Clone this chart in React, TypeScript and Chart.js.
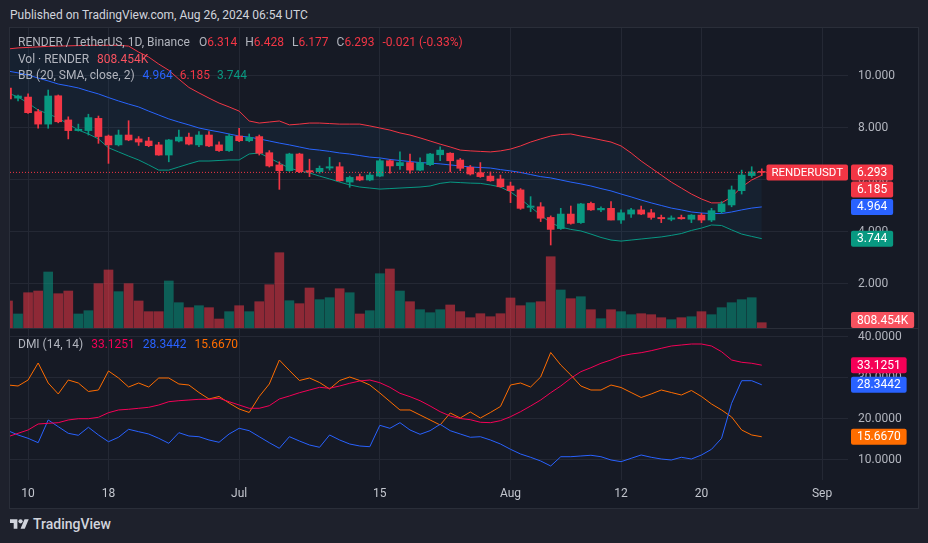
import React, { useEffect, useRef } from 'react';
import { Chart, registerables } from 'chart.js';
Chart.register(...registerables);

// ---------- data (RENDER / USDT daily, one entry per candle) ----------
const OPEN = [9.54,9.15,9.19,8.63,8.15,9.24,8.31,7.90,7.90,8.37,7.69,7.35,7.73,7.58,7.50,7.35,6.96,7.50,7.65,7.35,7.73,7.35,7.13,7.69,7.51,7.67,7.05,6.58,6.36,7.00,6.36,6.32,6.46,6.51,5.92,6.13,6.00,6.15,6.74,6.55,6.67,6.38,6.59,6.97,7.03,6.77,6.49,6.28,6.15,6.04,5.77,5.62,4.95,4.97,4.56,4.13,4.69,4.36,5.10,4.85,4.91,4.46,4.69,4.85,4.74,4.56,4.49,4.56,4.49,4.65,4.46,4.78,5.04,5.59,6.17,6.314];
const HIGH = [9.62,9.27,9.31,8.72,9.46,9.27,8.43,8.15,8.53,8.46,7.73,7.92,8.28,7.67,7.64,7.45,7.56,7.92,7.80,7.86,7.86,7.47,7.77,7.99,7.77,7.73,7.13,6.70,7.03,7.03,6.80,6.54,6.87,6.67,6.15,6.23,6.28,6.80,6.78,7.08,7.00,6.85,7.03,7.28,7.05,6.83,6.56,6.67,6.31,6.19,5.92,5.67,5.36,5.13,4.62,4.91,5.00,5.10,5.15,4.97,5.17,4.85,4.91,5.00,4.87,4.65,4.62,4.65,4.67,4.72,4.91,5.17,5.77,6.38,6.51,6.428];
const LOW = [9.04,9.04,8.56,7.99,7.99,8.20,7.58,7.88,7.73,7.41,6.64,7.31,7.51,7.33,7.28,6.95,6.70,7.46,7.35,7.28,7.28,7.10,7.10,7.47,7.47,6.96,6.50,5.64,6.33,6.28,6.13,6.26,6.38,5.95,5.72,5.97,5.97,6.13,6.26,6.41,6.26,6.36,6.55,6.74,6.31,6.36,6.19,6.10,5.95,5.72,5.13,4.87,4.78,4.40,3.50,4.10,4.30,4.33,4.83,4.78,4.46,4.33,4.56,4.67,4.49,4.36,4.43,4.49,4.36,4.36,4.40,4.72,4.97,5.46,6.10,6.177];
const CLOSE = [9.12,9.23,8.59,8.15,9.23,8.24,7.90,7.95,8.40,7.67,7.35,7.73,7.54,7.46,7.32,6.96,7.54,7.65,7.38,7.73,7.31,7.13,7.69,7.51,7.64,7.03,6.54,6.36,7.00,6.32,6.31,6.45,6.51,5.97,6.10,6.00,6.19,6.74,6.54,6.67,6.38,6.67,7.00,7.15,6.74,6.45,6.23,6.13,5.97,5.74,5.59,4.91,5.00,4.53,4.10,4.69,4.33,5.08,4.85,4.91,4.46,4.74,4.85,4.69,4.56,4.51,4.54,4.51,4.65,4.46,4.82,5.08,5.62,6.19,6.314,6.293];
// volume in millions
const VOLUME = [4.12,2.14,5.38,5.64,8.54,5.23,5.64,2.14,2.64,6.76,8.85,5.54,6.76,4.12,2.49,2.49,7.17,3.86,3.10,3.40,3.10,1.37,2.49,3.40,2.49,4.01,6.60,11.48,4.16,3.71,6.10,4.32,4.62,5.99,5.38,2.14,2.64,8.28,9.00,5.64,4.01,2.79,2.33,2.79,3.51,2.49,1.57,2.18,1.72,2.18,4.58,3.40,3.86,4.01,10.87,5.80,4.47,4.77,2.79,1.42,2.79,2.49,2.03,2.18,2.03,1.57,1.27,1.57,1.72,2.49,2.03,3.10,3.86,4.32,4.62,0.808454];
const BB_UPPER = [11.04,11.08,11.10,11.12,11.14,11.15,11.16,11.17,11.18,11.18,11.18,11.18,11.15,10.92,10.73,10.46,10.22,9.88,9.56,9.35,9.15,8.96,8.81,8.65,8.27,8.19,8.23,8.27,8.12,8.15,8.19,8.19,8.17,8.15,8.15,8.15,8.08,8.00,7.92,7.81,7.73,7.62,7.50,7.38,7.27,7.15,7.12,7.10,7.08,7.12,7.19,7.31,7.46,7.58,7.69,7.75,7.77,7.69,7.62,7.54,7.46,7.31,7.04,6.73,6.46,6.19,5.92,5.69,5.46,5.27,5.12,5.12,5.35,5.73,6.00,6.185];
const BB_BASIS = [10.19,10.12,10.04,9.92,9.81,9.69,9.62,9.54,9.42,9.31,9.17,9.04,8.92,8.81,8.65,8.50,8.35,8.23,8.12,8.00,7.92,7.85,7.77,7.69,7.65,7.58,7.50,7.42,7.35,7.27,7.19,7.15,7.10,7.04,7.00,6.94,6.88,6.85,6.79,6.75,6.71,6.67,6.65,6.62,6.58,6.54,6.50,6.48,6.46,6.40,6.35,6.29,6.21,6.13,6.08,6.00,5.92,5.85,5.77,5.67,5.58,5.46,5.35,5.23,5.12,5.02,4.92,4.85,4.77,4.73,4.71,4.71,4.77,4.85,4.92,4.964];
const BB_LOWER = [9.35,9.19,8.96,8.69,8.54,8.38,8.15,7.92,7.77,7.58,7.24,7.08,6.92,6.77,6.58,6.38,6.38,6.50,6.62,6.73,6.73,6.75,6.77,6.77,7.00,7.04,6.85,6.65,6.46,6.35,6.27,6.15,6.04,5.92,5.81,5.73,5.69,5.65,5.67,5.69,5.71,5.73,5.77,5.87,5.92,5.90,5.88,5.87,5.81,5.73,5.54,5.27,4.96,4.65,4.35,4.19,4.10,4.04,3.92,3.79,3.69,3.65,3.69,3.73,3.77,3.81,3.87,3.94,4.06,4.15,4.27,4.25,4.08,3.92,3.83,3.744];
const ADX = [15.68,16.51,17.32,18.78,18.95,19.10,19.76,20.07,20.07,20.41,21.54,22.20,22.37,22.61,22.85,23.41,24.22,24.46,24.63,24.80,24.80,25.05,24.22,23.41,22.61,22.61,23.24,24.88,25.61,26.41,27.07,27.73,27.49,28.05,28.71,29.27,29.51,28.85,27.73,26.27,25.44,24.46,23.17,21.78,20.73,20.12,19.83,19.20,19.10,19.59,20.56,21.78,23.17,24.63,26.41,28.05,29.93,31.54,32.51,33.59,34.39,35.37,35.85,36.17,36.66,37.24,37.80,38.05,38.29,38.29,37.80,36.41,34.39,33.83,33.59,33.1251];
const PLUS_DI = [17.15,16.10,15.29,14.22,19.76,18.12,16.51,16.02,17.98,16.10,14.46,15.54,17.49,16.90,16.34,15.29,14.07,16.66,15.85,15.68,14.88,14.32,16.34,17.73,17.15,15.68,14.22,12.85,15.68,14.63,13.66,13.10,16.10,14.88,13.90,13.41,13.24,18.46,17.73,19.10,17.32,16.27,17.15,18.71,17.15,16.34,15.54,15.68,14.88,13.90,12.61,11.46,10.66,9.76,8.54,10.80,10.80,10.98,11.15,10.80,10.00,9.59,10.41,11.22,10.66,10.24,10.00,10.66,10.24,11.22,12.61,15.29,23.83,29.34,29.34,28.3442];
const MINUS_DI = [28.29,28.05,29.51,33.66,28.78,26.10,29.51,28.78,26.71,27.07,31.71,30.00,27.80,28.78,27.80,30.00,30.00,28.54,28.29,26.46,24.88,25.49,23.90,22.44,21.59,25.49,28.54,34.39,31.83,29.39,30.00,28.90,27.32,29.39,30.24,29.39,28.29,26.34,24.27,22.20,22.20,20.98,19.76,18.54,21.46,20.24,21.71,20.24,21.59,23.05,28.29,28.78,27.80,30.24,36.22,33.17,30.73,28.05,27.07,27.07,28.29,27.68,26.46,25.24,26.10,27.07,26.46,25.85,26.95,25.49,23.66,22.20,20.49,17.32,16.10,15.667];

// x axis: candle index positions of the date labels
const TICK_POS = [2, 10, 23, 37, 50, 61, 69, 81];
const TICK_LABELS = ['10', '18', 'Jul', '15', 'Aug', '12', '20', 'Sep'];
const PRICE_TICKS = [2, 4, 6, 8, 10];
const DMI_TICKS = [10, 20, 30, 40];

// ---------- view ranges / styles ----------
const X_MIN = 0.2;
const X_MAX = 83.58;
const P_MIN = 0.3077;
const P_MAX = 11.846;
const VOL_MAX = 45.75;
const DMI_MIN = 5.12;
const DMI_MAX = 41.95;

const FONT = 'Roboto, "Open Sans", "Liberation Sans", sans-serif';
const OUTER_BG = '#1e212c';
const CHART_BG = '#161a25';
const GRID = '#242834';
const AXIS_TEXT = '#b2b5be';
const C_UP = '#089981';
const C_DOWN = '#f23645';
const VOL_UP = 'rgba(8,153,129,0.55)';
const VOL_DOWN = 'rgba(242,54,69,0.55)';
const BLUE = '#2962ff';
const PINK = '#f50057';
const ORANGE = '#ff6d00';

const N = CLOSE.length;
const IDX = CLOSE.map((_, i) => i);
const LAST = N - 1;
const isUp = (i: number) => CLOSE[i] >= OPEN[i];

function zeroPad(s: any) {
  s.paddingLeft = 0;
  s.paddingRight = 0;
  s.paddingTop = 0;
  s.paddingBottom = 0;
}

function makeTagPlugin(id: string, tags: any[]) {
  return {
    id,
    afterDraw(chart: any) {
      const { ctx, chartArea } = chart;
      ctx.save();
      ctx.font = `12px ${FONT}`;
      const H = 16;
      const items = tags.map((t) => ({ ...t, y: chart.scales[t.axis].getPixelForValue(t.value) }));
      items.sort((a, b) => a.y - b.y);
      let prevBottom = -Infinity;
      for (const it of items) {
        let top = Math.max(it.y - H / 2, prevBottom + 1);
        if (top + H > chartArea.bottom) top = chartArea.bottom - H;
        it.top = top;
        prevBottom = top + H;
      }
      for (const it of items) {
        const x = chartArea.right + 3;
        const w = ctx.measureText(it.text).width + 12;
        ctx.fillStyle = it.bg;
        ctx.beginPath();
        ctx.roundRect(x, it.top, w, H, 2);
        ctx.fill();
        ctx.fillStyle = '#ffffff';
        ctx.textBaseline = 'middle';
        ctx.textAlign = 'left';
        ctx.fillText(it.text, x + 6, it.top + H / 2 + 0.5);
        if (it.name) {
          ctx.font = `11.5px ${FONT}`;
          const w2 = ctx.measureText(it.name).width + 10;
          const x2 = chartArea.right - w2;
          ctx.fillStyle = it.bg;
          ctx.beginPath();
          ctx.roundRect(x2, it.top, w2, H, 2);
          ctx.fill();
          ctx.fillStyle = '#ffffff';
          ctx.fillText(it.name, x2 + 5, it.top + H / 2 + 0.5);
          ctx.font = `12px ${FONT}`;
        }
      }
      ctx.restore();
    },
  };
}

function topConfig(): any {
  const candleColors = IDX.map((i) => (isUp(i) ? C_UP : C_DOWN));
  const volColors = IDX.map((i) => (isUp(i) ? VOL_UP : VOL_DOWN));
  const line = (arr: number[], color: string, extra: any = {}) => ({
    type: 'line',
    data: IDX.map((i) => ({ x: i, y: arr[i] })),
    borderColor: color,
    borderWidth: 1,
    pointRadius: 0,
    tension: 0,
    fill: false,
    order: 3,
    ...extra,
  });
  return {
    type: 'bar',
    data: {
      datasets: [
        line(BB_UPPER, C_DOWN, { fill: 2, backgroundColor: 'rgba(33,150,243,0.06)' }),
        line(BB_BASIS, BLUE),
        line(BB_LOWER, C_UP),
        {
          type: 'bar',
          yAxisID: 'yv',
          data: IDX.map((i) => ({ x: i, y: VOLUME[i] })),
          backgroundColor: volColors,
          barThickness: 9,
          grouped: false,
          order: 5,
        },
        {
          type: 'bar',
          yAxisID: 'y',
          data: IDX.map((i) => ({ x: i, y: [LOW[i], HIGH[i]] })),
          backgroundColor: candleColors,
          barThickness: 1,
          grouped: false,
          order: 2,
        },
        {
          type: 'bar',
          yAxisID: 'y',
          data: IDX.map((i) => ({ x: i, y: [OPEN[i], CLOSE[i]] })),
          backgroundColor: candleColors,
          barThickness: 7,
          minBarLength: 1,
          grouped: false,
          order: 1,
        },
        {
          type: 'line',
          yAxisID: 'y',
          data: [
            { x: X_MIN, y: CLOSE[LAST] },
            { x: X_MAX, y: CLOSE[LAST] },
          ],
          borderColor: C_DOWN,
          borderWidth: 1,
          borderDash: [1, 2],
          pointRadius: 0,
          order: 0,
        },
      ],
    },
    options: {
      responsive: false,
      animation: false,
      devicePixelRatio: 1,
      events: [],
      layout: { padding: 0 },
      plugins: { legend: { display: false }, tooltip: { enabled: false } },
      scales: {
        x: {
          type: 'linear',
          min: X_MIN,
          max: X_MAX,
          bounds: 'data',
          offset: false,
          grid: { color: GRID, offset: false, drawTicks: false },
          border: { display: false },
          ticks: { display: false },
          afterBuildTicks: (s: any) => {
            s.ticks = TICK_POS.map((v) => ({ value: v }));
          },
          afterFit: (s: any) => {
            s.height = 0;
            zeroPad(s);
          },
        },
        y: {
          type: 'linear',
          position: 'right',
          min: P_MIN,
          max: P_MAX,
          bounds: 'data',
          grid: { color: GRID, drawTicks: false },
          border: { display: false },
          ticks: {
            color: AXIS_TEXT,
            font: { family: FONT, size: 12 },
            padding: 10,
            callback: (v: any) => Number(v).toFixed(3),
          },
          afterBuildTicks: (s: any) => {
            s.ticks = PRICE_TICKS.map((v) => ({ value: v }));
          },
          afterFit: (s: any) => {
            s.width = 70;
            zeroPad(s);
          },
        },
        yv: {
          type: 'linear',
          display: false,
          min: 0,
          max: VOL_MAX,
          bounds: 'data',
        },
      },
    },
    plugins: [
      makeTagPlugin('priceTags', [
        { axis: 'y', value: CLOSE[LAST], text: CLOSE[LAST].toFixed(3), bg: C_DOWN, name: 'RENDERUSDT' },
        { axis: 'y', value: BB_UPPER[LAST], text: BB_UPPER[LAST].toFixed(3), bg: C_DOWN },
        { axis: 'y', value: BB_BASIS[LAST], text: BB_BASIS[LAST].toFixed(3), bg: BLUE },
        { axis: 'y', value: BB_LOWER[LAST], text: BB_LOWER[LAST].toFixed(3), bg: C_UP },
        { axis: 'yv', value: VOLUME[LAST], text: (VOLUME[LAST] * 1000).toFixed(3) + 'K', bg: '#f7525f' },
      ]),
    ],
  };
}

function botConfig(): any {
  const line = (arr: number[], color: string) => ({
    data: IDX.map((i) => ({ x: i, y: arr[i] })),
    borderColor: color,
    borderWidth: 1,
    pointRadius: 0,
    tension: 0,
    fill: false,
  });
  return {
    type: 'line',
    data: { datasets: [line(ADX, PINK), line(PLUS_DI, BLUE), line(MINUS_DI, ORANGE)] },
    options: {
      responsive: false,
      animation: false,
      devicePixelRatio: 1,
      events: [],
      layout: { padding: 0 },
      plugins: { legend: { display: false }, tooltip: { enabled: false } },
      scales: {
        x: {
          type: 'linear',
          min: X_MIN,
          max: X_MAX,
          bounds: 'data',
          offset: false,
          grid: { color: GRID, offset: false, drawTicks: false },
          border: { display: false },
          ticks: {
            color: '#c3c6ce',
            font: { family: FONT, size: 12 },
            padding: 7,
            maxRotation: 0,
            autoSkip: false,
            callback: (v: any) => TICK_LABELS[TICK_POS.indexOf(v)],
          },
          afterBuildTicks: (s: any) => {
            s.ticks = TICK_POS.map((v) => ({ value: v }));
          },
          afterFit: (s: any) => {
            s.height = 28;
            zeroPad(s);
          },
        },
        y: {
          type: 'linear',
          position: 'right',
          min: DMI_MIN,
          max: DMI_MAX,
          bounds: 'data',
          grid: { color: GRID, drawTicks: false },
          border: { display: false },
          ticks: {
            color: AXIS_TEXT,
            font: { family: FONT, size: 12 },
            padding: 10,
            callback: (v: any) => Number(v).toFixed(4),
          },
          afterBuildTicks: (s: any) => {
            s.ticks = DMI_TICKS.map((v) => ({ value: v }));
          },
          afterFit: (s: any) => {
            s.width = 70;
            zeroPad(s);
          },
        },
      },
    },
    plugins: [
      makeTagPlugin('dmiTags', [
        { axis: 'y', value: ADX[LAST], text: ADX[LAST].toFixed(4), bg: PINK },
        { axis: 'y', value: PLUS_DI[LAST], text: PLUS_DI[LAST].toFixed(4), bg: BLUE },
        { axis: 'y', value: MINUS_DI[LAST], text: MINUS_DI[LAST].toFixed(4), bg: ORANGE },
      ]),
    ],
  };
}

const legendRow = (top: number): React.CSSProperties => ({
  position: 'absolute',
  left: 18,
  top,
  height: 16,
  lineHeight: '16px',
  fontSize: 12,
  color: AXIS_TEXT,
  whiteSpace: 'nowrap',
  display: 'flex',
});

export default function App() {
  const topRef = useRef<HTMLCanvasElement>(null);
  const botRef = useRef<HTMLCanvasElement>(null);

  useEffect(() => {
    const top = new Chart(topRef.current as HTMLCanvasElement, topConfig());
    const bot = new Chart(botRef.current as HTMLCanvasElement, botConfig());
    return () => {
      top.destroy();
      bot.destroy();
    };
  }, []);

  const chg = CLOSE[LAST] - OPEN[LAST];
  const pct = (chg / OPEN[LAST]) * 100;

  return (
    <div
      style={{
        position: 'fixed',
        left: 0,
        top: 0,
        width: 928,
        height: 543,
        background: OUTER_BG,
        fontFamily: FONT,
        overflow: 'hidden',
      }}
    >
      <div style={{ position: 'absolute', left: 10, top: 7, fontSize: 12, lineHeight: '16px', color: '#d1d4dc' }}>
        Published on TradingView.com, Aug 26, 2024 06:54 UTC
      </div>
      <div
        style={{
          position: 'absolute',
          left: 9,
          top: 27,
          width: 910,
          height: 482,
          border: '1px solid #2a2e39',
          boxSizing: 'border-box',
          background: CHART_BG,
        }}
      />
      <canvas ref={topRef} width={908} height={300} style={{ position: 'absolute', left: 10, top: 28 }} />
      <canvas ref={botRef} width={908} height={179} style={{ position: 'absolute', left: 10, top: 329 }} />
      <div style={{ position: 'absolute', left: 10, top: 328, width: 908, height: 1, background: '#2a2e39' }} />

      <div style={legendRow(34)}>
        <span>RENDER / TetherUS, 1D, Binance</span>
        <span style={{ marginLeft: 9 }}>O</span>
        <span style={{ color: C_DOWN }}>{OPEN[LAST].toFixed(3)}</span>
        <span style={{ marginLeft: 8 }}>H</span>
        <span style={{ color: C_DOWN }}>{HIGH[LAST].toFixed(3)}</span>
        <span style={{ marginLeft: 8 }}>L</span>
        <span style={{ color: C_DOWN }}>{LOW[LAST].toFixed(3)}</span>
        <span style={{ marginLeft: 8 }}>C</span>
        <span style={{ color: C_DOWN }}>{CLOSE[LAST].toFixed(3)}</span>
        <span style={{ marginLeft: 8, color: C_DOWN }}>
          {chg.toFixed(3)} ({pct.toFixed(2)}%)
        </span>
      </div>
      <div style={legendRow(51)}>
        <span>Vol · RENDER</span>
        <span style={{ marginLeft: 8, color: '#f7525f' }}>{(VOLUME[LAST] * 1000).toFixed(3)}K</span>
      </div>
      <div style={legendRow(67)}>
        <span>BB (20, SMA, close, 2)</span>
        <span style={{ marginLeft: 8, color: BLUE }}>{BB_BASIS[LAST].toFixed(3)}</span>
        <span style={{ marginLeft: 7, color: C_DOWN }}>{BB_UPPER[LAST].toFixed(3)}</span>
        <span style={{ marginLeft: 7, color: C_UP }}>{BB_LOWER[LAST].toFixed(3)}</span>
      </div>
      <div style={legendRow(336)}>
        <span>DMI (14, 14)</span>
        <span style={{ marginLeft: 8, color: PINK }}>{ADX[LAST].toFixed(4)}</span>
        <span style={{ marginLeft: 8, color: BLUE }}>{PLUS_DI[LAST].toFixed(4)}</span>
        <span style={{ marginLeft: 8, color: ORANGE }}>{MINUS_DI[LAST].toFixed(4)}</span>
      </div>

      <div style={{ position: 'absolute', left: 10, top: 516, display: 'flex', alignItems: 'center', color: '#d1d4dc' }}>
        <svg width="19" height="15" viewBox="0 0 36 28">
          <path d="M14 22H7V11H0V4h14v18z" fill="#d1d4dc" />
          <path d="M28 22h-8l7.5-18h8L28 22z" fill="#d1d4dc" />
          <circle cx="20" cy="8" r="4" fill="#d1d4dc" />
        </svg>
        <span style={{ marginLeft: 4, fontSize: 14, fontWeight: 500, lineHeight: '16px' }}>TradingView</span>
      </div>
    </div>
  );
}
